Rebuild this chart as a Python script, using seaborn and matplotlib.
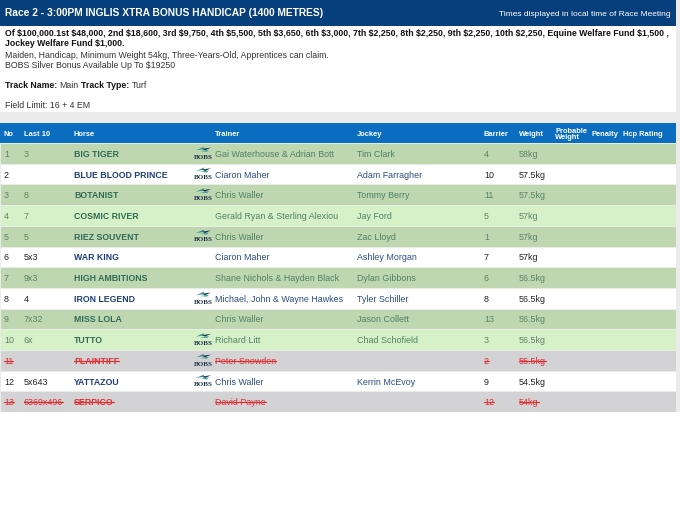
import matplotlib
matplotlib.use("Agg")
import matplotlib.pyplot as plt
import numpy as np
import pandas as pd
import seaborn as sns
from matplotlib.colors import ListedColormap
from matplotlib.patches import Rectangle, Polygon

# ---------------- data ----------------
title = "Race 2 - 3:00PM INGLIS XTRA BONUS HANDICAP (1400 METRES)"
title_right = "Times displayed in local time of Race Meeting"
prize_lines = [
    "Of $100,000.1st $48,000, 2nd $18,600, 3rd $9,750, 4th $5,500, 5th $3,650, 6th $3,000, 7th $2,250, 8th $2,250, 9th $2,250, 10th $2,250, Equine Welfare Fund $1,500 ,",
    "Jockey Welfare Fund $1,000.",
]
cond_lines = [
    "Maiden, Handicap, Minimum Weight 54kg, Three-Years-Old, Apprentices can claim.",
    "BOBS Silver Bonus Available Up To $19250",
]
track_name = "Main"
track_type = "Turf"
field_limit = "Field Limit: 16 + 4 EM"

headers = ["No", "Last 10", "Horse", "Trainer", "Jockey", "Barrier", "Weight",
           "Probable\nWeight", "Penalty", "Hcp Rating"]

numbers = [1, 2, 3, 4, 5, 6, 7, 8, 9, 10, 11, 12, 13]
last10 = ["3", "", "8", "7", "5", "5x3", "9x3", "4", "7x32", "6x", "", "5x643", "6369x496"]
horses = ["BIG TIGER", "BLUE BLOOD PRINCE", "BOTANIST", "COSMIC RIVER", "RIEZ SOUVENT",
          "WAR KING", "HIGH AMBITIONS", "IRON LEGEND", "MISS LOLA", "TUTTO",
          "PLAINTIFF", "YATTAZOU", "SERPICO"]
trainers = ["Gai Waterhouse & Adrian Bott", "Ciaron Maher", "Chris Waller",
            "Gerald Ryan & Sterling Alexiou", "Chris Waller", "Ciaron Maher",
            "Shane Nichols & Hayden Black", "Michael, John & Wayne Hawkes", "Chris Waller",
            "Richard Litt", "Peter Snowden", "Chris Waller", "David Payne"]
jockeys = ["Tim Clark", "Adam Farragher", "Tommy Berry", "Jay Ford", "Zac Lloyd",
           "Ashley Morgan", "Dylan Gibbons", "Tyler Schiller", "Jason Collett",
           "Chad Schofield", "", "Kerrin McEvoy", ""]
barriers = [4, 10, 11, 5, 1, 7, 6, 8, 13, 3, 2, 9, 12]
weights = [58, 57.5, 57.5, 57, 57, 57, 56.5, 56.5, 56.5, 56.5, 55.5, 54.5, 54]
bobs = [True, True, True, False, True, False, False, True, False, True, True, True, False]
# row style: g = green, w = white, l = light green, s = scratched
row_style = ["g", "w", "g", "l", "g", "w", "g", "w", "g", "l", "s", "w", "s"]

# ---------------- styling ----------------
sns.set_theme(style="white")
plt.rcParams["font.family"] = ["Liberation Sans", "DejaVu Sans"]
plt.rcParams["text.parse_math"] = False

W, H = 680, 510
fig = plt.figure(figsize=(W / 100, H / 100), dpi=100)
fig.patch.set_facecolor("white")

NAVY = "#063f7b"
HEAD = "#0b6dc0"
style_codes = {"g": 0, "w": 1, "l": 2, "s": 3}
style_bg = ["#bed7b0", "#ffffff", "#d6f1c7", "#d3d3d5"]
style_main = {"g": "#2f6b57", "w": "#1d3e7a", "l": "#2f6b57", "s": "#e42a2e"}
style_sub = {"g": "#4f8166", "w": "#2b4c84", "l": "#4f8166", "s": "#e42a2e"}
style_num = {"g": "#5a8467", "w": "#222222", "l": "#5a8467", "s": "#e42a2e"}

table_left, table_right = 0, 676
body_top, row_h = 144, 20.7
n = len(numbers)
body_bottom = body_top + row_h * n

# overlay axes in pixel coordinates
ax = fig.add_axes([0, 0, 1, 1])
ax.set_xlim(0, W)
ax.set_ylim(H, 0)
ax.axis("off")

# body rows through seaborn heatmap
bax = fig.add_axes([table_left / W, 1 - body_bottom / H,
                    (table_right - table_left) / W, (body_bottom - body_top) / H])
codes = pd.DataFrame({"style": [style_codes[s] for s in row_style]})
sns.heatmap(codes, ax=bax, cmap=ListedColormap(style_bg), vmin=-0.5, vmax=3.5,
            cbar=False, linewidths=0.4, linecolor="#e9ede8", xticklabels=False,
            yticklabels=False)
bax.axis("off")
bax.set_zorder(0)
ax.set_zorder(1)
ax.patch.set_alpha(0)

# gray page background strips
ax.add_patch(Rectangle((0, 113), W, 11, color="#ebebeb", lw=0))
ax.add_patch(Rectangle((676, 0), 4, body_bottom, color="#ebebeb", lw=0))
# title bar
ax.add_patch(Rectangle((0, 0), 676, 27, color=NAVY, lw=0))
ax.text(5, 12.5, title, color="white", fontsize=7.4, fontweight="bold", va="center")
ax.text(671, 14, title_right, color="white", fontsize=6.0, va="center", ha="right")

# info block
fs_info = 6.3
ax.text(5, 33, prize_lines[0], fontsize=fs_info, fontweight="bold", color="#111", va="center")
ax.text(5, 44, prize_lines[1], fontsize=fs_info, fontweight="bold", color="#111", va="center")
ax.text(5, 55, cond_lines[0], fontsize=fs_info, color="#333", va="center")
ax.text(5, 65.5, cond_lines[1], fontsize=fs_info, color="#333", va="center")
t1 = ax.text(5, 85, "Track Name:", fontsize=fs_info, fontweight="bold", color="#111", va="center")
fig.canvas.draw()
r = fig.canvas.get_renderer()


def right_of(t, pad=2.5):
    bb = t.get_window_extent(r)
    x1 = ax.transData.inverted().transform((bb.x1, bb.y0))[0]
    return x1 + pad


t2 = ax.text(right_of(t1), 85, track_name, fontsize=fs_info, color="#333", va="center")
t3 = ax.text(right_of(t2), 85, "Track Type:", fontsize=fs_info, fontweight="bold", color="#111", va="center")
ax.text(right_of(t3), 85, track_type, fontsize=fs_info, color="#333", va="center")
ax.text(5, 105, field_limit, fontsize=fs_info, color="#333", va="center")

# header
ax.add_patch(Rectangle((table_left, 124), table_right - table_left, 20, color=HEAD, lw=0))
col_x = [4, 24, 74, 215, 357, 484, 519, 555, 591, 623]
for hx, label in zip(col_x, headers):
    ax.text(hx, 134.5, label, color="white", fontsize=5.4, fontweight="bold",
            va="center", linespacing=0.95)


def bobs_logo(xc, yc):
    # small bird above the serif "BOBS" wordmark
    ax.add_patch(Polygon([(xc - 7, yc - 3.0), (xc + 1, yc - 6.5), (xc + 0.5, yc - 4.2)],
                         closed=True, color="#2f8f86", lw=0))
    ax.add_patch(Polygon([(xc - 1, yc - 4.5), (xc + 8, yc - 5.8), (xc + 2, yc - 3.0)],
                         closed=True, color="#1d3a55", lw=0))
    ax.add_patch(Polygon([(xc - 3, yc - 2.2), (xc + 6, yc - 3.6), (xc + 4, yc - 1.6)],
                         closed=True, color="#3aa39a", lw=0))
    ax.text(xc, yc + 2.8, "BOBS", family="Liberation Serif", fontweight="bold",
            fontsize=5.0, color="#1d2f4a", ha="center", va="center")


# body text
texts_to_strike = []
for i in range(n):
    s = row_style[i]
    y = body_top + row_h * (i + 0.5)
    items = [
        (col_x[0], str(numbers[i]), style_num[s], "normal", 6.4),
        (col_x[1], last10[i], style_num[s], "normal", 6.4),
        (col_x[2], horses[i], style_main[s], "bold", 6.35),
        (col_x[3], trainers[i], style_sub[s], "normal", 6.4),
        (col_x[4], jockeys[i], style_sub[s], "normal", 6.4),
        (col_x[5], str(barriers[i]), style_num[s], "normal", 6.4),
        (col_x[6], f"{weights[i]:g}kg", style_num[s], "normal", 6.4),
    ]
    for x, txt, c, fw, fs in items:
        if not txt:
            continue
        t = ax.text(x, y, txt, color=c, fontweight=fw, fontsize=fs, va="center")
        if s == "s":
            texts_to_strike.append(t)
    if bobs[i]:
        bobs_logo(203, y)

fig.canvas.draw()
inv = ax.transData.inverted()
for t in texts_to_strike:
    bb = t.get_window_extent(r)
    (x0, y0), (x1, y1) = inv.transform([(bb.x0, bb.y0), (bb.x1, bb.y1)])
    ym = (y0 + y1) / 2 + 0.3
    ax.plot([x0, x1], [ym, ym], color=t.get_color(), lw=0.8)

fig.savefig("out.png", dpi=100)
